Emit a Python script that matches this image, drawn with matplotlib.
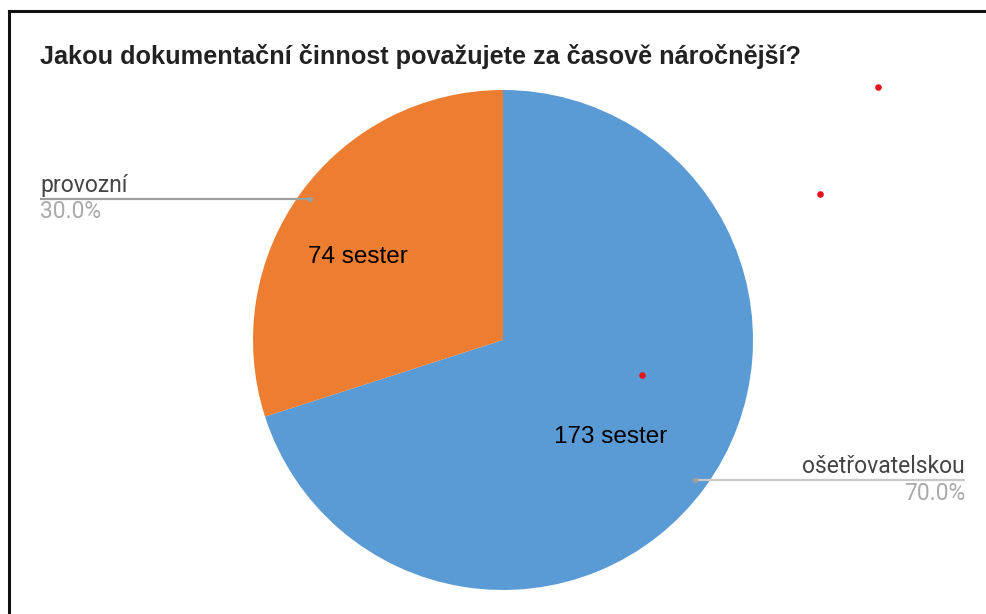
import numpy as np
import matplotlib
matplotlib.use("Agg")
import matplotlib.pyplot as plt

plt.rcParams['font.family'] = ['Liberation Sans', 'DejaVu Sans']

# DATA

title = "Jakou dokumentační činnost považujete za časově náročnější?"
categories = ["ošetřovatelskou", "provozní"]
counts = [173, 74]
count_labels = ["173 sester", "74 sester"]
colors = ["#5B9BD5", "#ED7D31"]
red_dots_x = [878, 820, 642]
red_dots_y = [87, 194, 375]

# FIGURE (axes in pixel units, y measured from top)

W, H = 986, 614
fig = plt.figure(figsize=(W / 100, H / 100), dpi=100)
ax = fig.add_axes([0, 0, 1, 1])

cx, cy, r = 503, 340, 250

# pie drawn on flipped axis: counterclock=True in data coords looks clockwise on screen
wedges, _ = ax.pie(counts, colors=colors, startangle=-90, counterclock=True,
                   center=(cx, cy), radius=r, frame=True,
                   wedgeprops=dict(linewidth=0))
ax.set_xlim(0, W)
ax.set_ylim(H, 0)
ax.set_aspect("equal")
ax.axis("off")

total = sum(counts)
pct = [100 * c / total for c in counts]

# counts inside slices
ax.text(611, 437, count_labels[0], ha="center", va="center", fontsize=17.5, color="#000000")
ax.text(358, 257, count_labels[1], ha="center", va="center", fontsize=17.5, color="#000000")

# leader labels
lab_font = ['Roboto', 'DejaVu Sans']
ax.plot([310, 40], [199, 199], color="#9E9E9E", lw=1.6, solid_capstyle="butt")
ax.plot([310], [199], "o", color="#9E9E9E", ms=3)
ax.text(40, 192, categories[1], ha="left", va="baseline", fontsize=16.5,
        color="#444444", family=lab_font)
ax.text(40, 218, f"{pct[1]:.1f}%", ha="left", va="baseline", fontsize=16.5,
        color="#AAAAAA", family=lab_font)

ax.plot([695, 965], [480, 480], color="#C8C8C8", lw=1.6, solid_capstyle="butt")
ax.plot([695], [480], "o", color="#9E9E9E", ms=3)
ax.text(965, 473, categories[0], ha="right", va="baseline", fontsize=16.5,
        color="#444444", family=lab_font)
ax.text(965, 500, f"{pct[0]:.1f}%", ha="right", va="baseline", fontsize=16.5,
        color="#AAAAAA", family=lab_font)

# title
ax.text(40, 64, title, ha="left", va="baseline", fontsize=18.2, fontweight="bold", color="#222222")

# stray red dots
ax.scatter(red_dots_x, red_dots_y, s=14, color="#E8141B", zorder=5)

# frame lines
ax.plot([9, W], [11, 11], color="#111111", lw=2.2)
ax.plot([9, 9], [11, H], color="#111111", lw=2.2)

fig.savefig("out.png", dpi=100)
